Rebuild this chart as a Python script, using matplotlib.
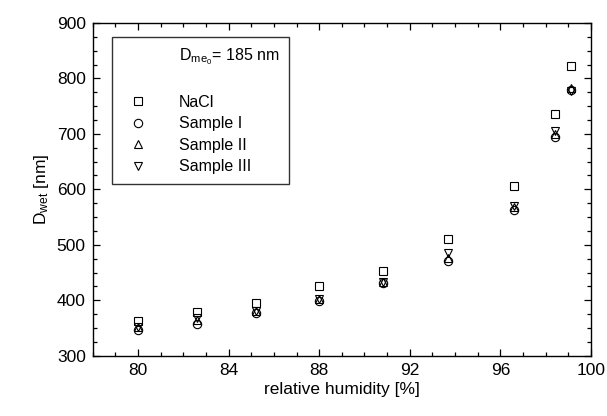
import matplotlib
matplotlib.use("Agg")
import matplotlib.pyplot as plt
from matplotlib.ticker import MultipleLocator

plt.rcParams['font.family'] = ['Liberation Sans', 'DejaVu Sans']
plt.rcParams['mathtext.fontset'] = 'custom'
plt.rcParams['mathtext.rm'] = 'Liberation Sans'
plt.rcParams['mathtext.it'] = 'Liberation Sans'

# relative humidity [%]
rh = [80.0, 82.6, 85.2, 88.0, 90.8, 93.7, 96.6, 98.4, 99.1]

# wet diameters [nm]
nacl = [363, 379, 395, 426, 453, 510, 606, 736, 823]
sample_1 = [347, 358, 377, 398, 431, 471, 562, 694, 780]
sample_2 = [351, 364, 380, 402, 433, 476, 568, 700, 782]
sample_3 = [352, 368, 381, 403, 432, 485, 570, 705, 778]

labels = ["NaCl", "Sample I", "Sample II", "Sample III"]
dme0_text = r"$\mathregular{D_{me_0}}$= 185 nm"

fig = plt.figure(figsize=(6.07, 4.16), dpi=100)
ax = fig.add_axes([0.1527, 0.145, 0.8209, 0.7997])

kw = dict(linestyle='none', markerfacecolor='none', markeredgecolor='black',
          markeredgewidth=0.8, markersize=6)

# header line in legend (no marker) and a spacer
ax.plot([], [], ' ', label=dme0_text)
ax.plot([], [], ' ', label=' ')
ax.plot(rh, nacl, marker='s', label=labels[0], **dict(kw, markersize=5.5))
ax.plot(rh, sample_1, marker='o', label=labels[1], **kw)
ax.plot(rh, sample_2, marker='^', label=labels[2], **kw)
ax.plot(rh, sample_3, marker='v', label=labels[3], **kw)

ax.set_xlim(78, 100)
ax.set_ylim(300, 900)
ax.xaxis.set_major_locator(MultipleLocator(4))
ax.xaxis.set_minor_locator(MultipleLocator(1))
ax.yaxis.set_major_locator(MultipleLocator(100))
ax.yaxis.set_minor_locator(MultipleLocator(25))
ax.tick_params(which='both', direction='in', top=True, right=True, width=0.9)
ax.tick_params(which='major', length=5, labelsize=12.5, pad=5)
ax.tick_params(which='minor', length=2.8)
for s in ax.spines.values():
    s.set_linewidth(1.0)

ax.set_xlabel("relative humidity [%]", fontsize=12.5, labelpad=3)
ax.set_ylabel(r"$\mathregular{D_{wet}}$ [nm]", fontsize=12.5, labelpad=4)

leg = ax.legend(loc='upper left', bbox_to_anchor=(0.0387, 0.958), borderaxespad=0,
                fontsize=11.5, frameon=True, fancybox=False, handlelength=2.0,
                handletextpad=1.6, borderpad=0.6, labelspacing=0.4)
leg.get_frame().set_edgecolor('black')
leg.get_frame().set_linewidth(1.0)

fig.savefig("out.png", dpi=100)
